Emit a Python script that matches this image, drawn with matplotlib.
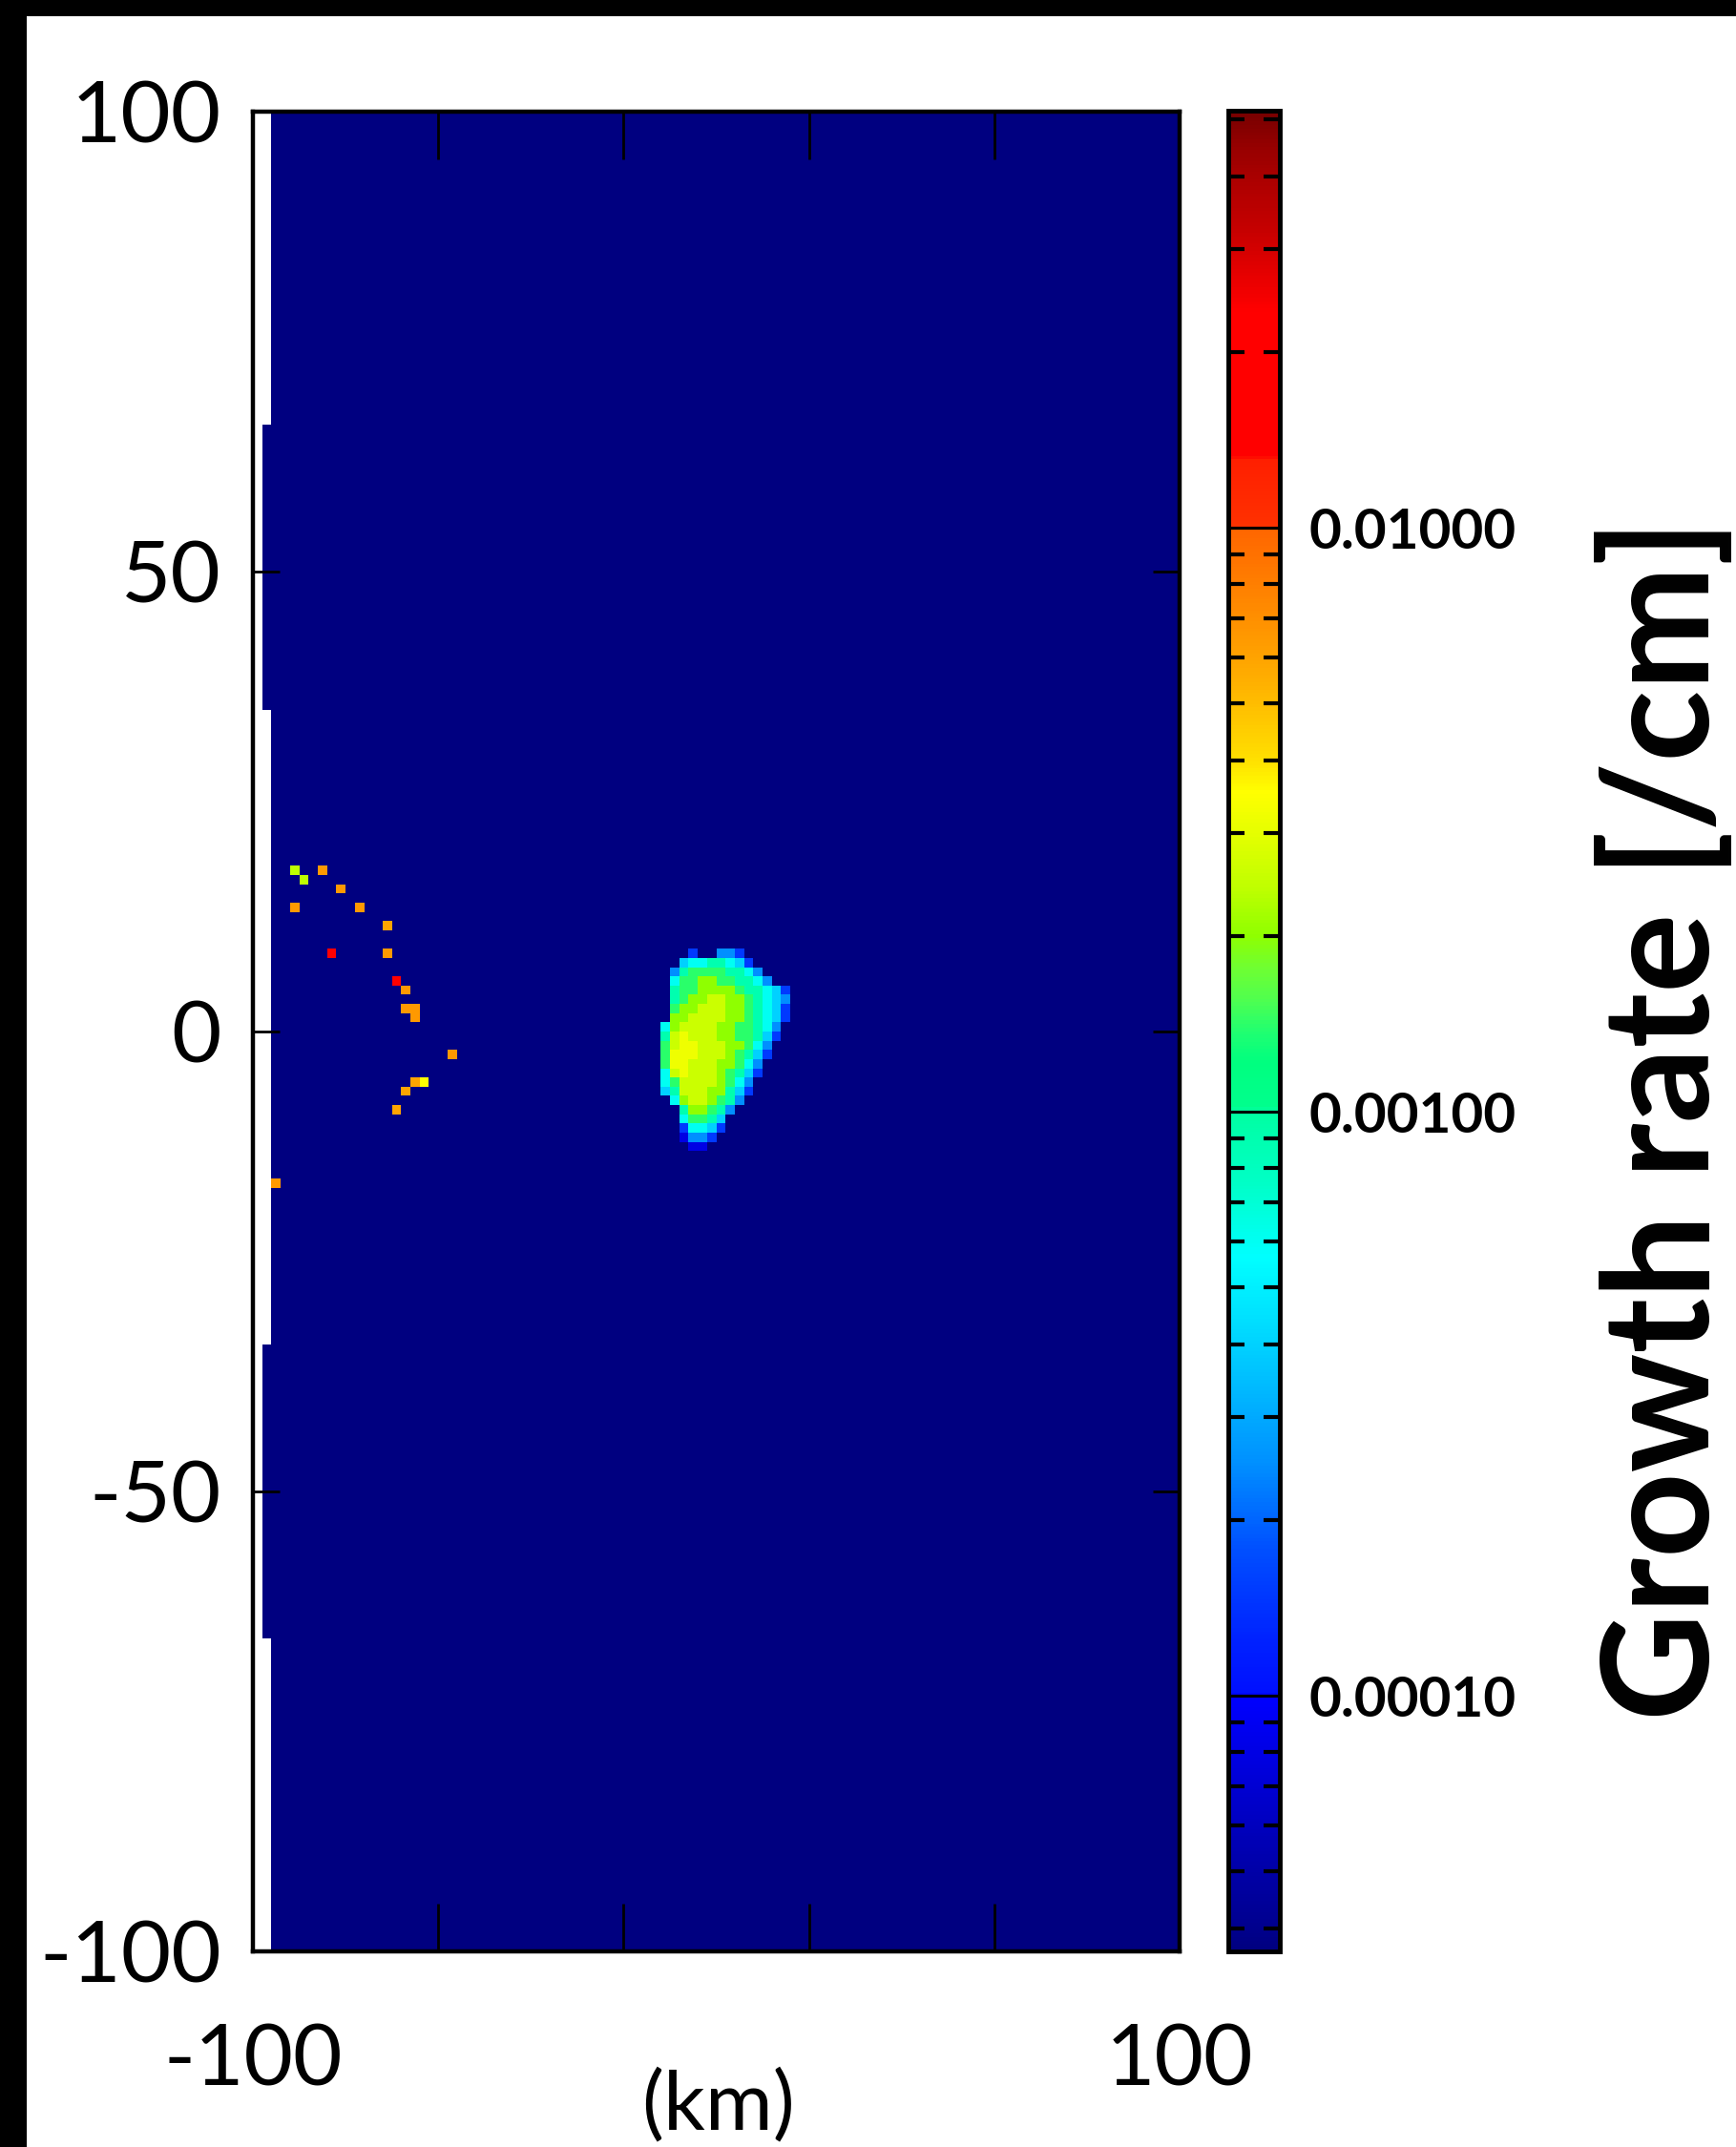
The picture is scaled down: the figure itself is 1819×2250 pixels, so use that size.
import numpy as np
import matplotlib
matplotlib.use("Agg")
import matplotlib.pyplot as plt
from matplotlib.colors import LinearSegmentedColormap, LogNorm
from matplotlib.ticker import LogLocator, NullFormatter
from matplotlib.patches import Rectangle

# ---------------------------------------------------------------- data
# model grid (km)
X_MIN, X_MAX, DX = -100.0, 100.0, 2.0
Y_MIN, Y_MAX, DY = -100.0, 100.0, 1.0

# growth-rate colour range [/cm]
RATE_MIN, RATE_MAX = 3.65e-5, 0.0518
BACKGROUND_RATE = 3.0e-5

# western edge of the computed domain, per latitude band (y0, y1, x_edge)
edge_bands = [(-100, -66, -96), (-66, -34, -98), (-34, 35, -96),
              (35, 66, -98), (66, 100, -96)]

# growth-rate levels used in the central cell
rate_levels = {'1': 8.0e-5, '2': 1.5e-4, '3': 2.5e-4, '4': 4.0e-4,
               '5': 6.0e-4, '6': 9.0e-4, '7': 1.4e-3, '8': 2.0e-3,
               '9': 2.6e-3, 'A': 3.2e-3}

# central unstable cell: first column at x=-12 km, first row at y=9 km
cell_x0, cell_y0 = -12.0, 9.0
cell_rows = [
    "...2..332.....",
    "..45566542....",
    ".3677776653...",
    ".57788776653..",
    ".6778888766542",
    ".6788998876543",
    ".7889998876542",
    ".8899998876542",
    "5899998877653.",
    "69A9998877642.",
    "79AA99988753..",
    "7AAA99987642..",
    "7AA99988753...",
    "59A99987642...",
    "5799998753....",
    "4699988642....",
    ".58998763.....",
    "..688763......",
    "..57764.......",
    "..25542.......",
    "..1332........",
    "...11.........",
]

# scattered unstable points along the western arc
arc_x = [-90.1, -88.3, -85.8, -80.6, -92.0, -76.1, -71.6, -82.9, -70.3, -68.7,
         -67.9, -66.8, -65.8, -64.6, -57.8, -63.3, -65.8, -66.8, -68.9, -95.1]
arc_y = [17.2, 16.6, 17.3, 15.8, 13.3, 13.9, 11.4, 8.8, 8.2, 5.0,
         4.4, 2.8, 2.0, 1.8, -2.3, -5.1, -5.9, -6.7, -8.4, -16.2]
arc_rate = [2.4e-3, 2.4e-3, 6.5e-3, 6.5e-3, 6.5e-3, 6.5e-3, 6.0e-3, 1.6e-2, 6.5e-3, 1.6e-2,
            6.5e-3, 6.5e-3, 6.5e-3, 6.5e-3, 6.5e-3, 3.5e-3, 6.0e-3, 6.0e-3, 6.0e-3, 6.5e-3]

x_ticks = [-100, -60, -20, 20, 60, 100]
x_tick_labels = ["-100", "", "", "", "", "100"]
y_ticks = [-100, -50, 0, 50, 100]
y_tick_labels = ["-100", "-50", "0", "50", "100"]
cbar_ticks = [1e-4, 1e-3, 1e-2]
cbar_tick_labels = ["0.00010", "0.00100", "0.01000"]

# palette nodes (fraction along the log colour axis, rgb)
palette_nodes = [
    (0.000, (0.00, 0.00, 0.50)), (0.013, (0.00, 0.00, 0.56)),
    (0.053, (0.00, 0.00, 0.69)), (0.103, (0.00, 0.00, 0.88)),
    (0.138, (0.00, 0.00, 1.00)), (0.140, (0.00, 0.06, 1.00)),
    (0.168, (0.00, 0.13, 1.00)), (0.218, (0.00, 0.31, 1.00)),
    (0.264, (0.00, 0.56, 1.00)), (0.311, (0.00, 0.75, 1.00)),
    (0.344, (0.00, 0.88, 1.00)), (0.377, (0.00, 1.00, 1.00)),
    (0.417, (0.00, 1.00, 0.78)), (0.457, (0.00, 1.00, 0.63)),
    (0.459, (0.00, 1.00, 0.55)), (0.483, (0.00, 1.00, 0.50)),
    (0.500, (0.13, 1.00, 0.44)), (0.517, (0.31, 1.00, 0.31)),
    (0.535, (0.44, 1.00, 0.19)), (0.552, (0.56, 1.00, 0.00)),
    (0.578, (0.75, 1.00, 0.00)), (0.604, (0.88, 1.00, 0.00)),
    (0.630, (1.00, 1.00, 0.00)), (0.647, (1.00, 0.88, 0.00)),
    (0.665, (1.00, 0.80, 0.00)), (0.690, (1.00, 0.69, 0.00)),
    (0.714, (1.00, 0.60, 0.00)), (0.742, (1.00, 0.50, 0.00)),
    (0.773, (1.00, 0.40, 0.00)), (0.775, (1.00, 0.19, 0.00)),
    (0.811, (1.00, 0.12, 0.00)), (0.813, (1.00, 0.00, 0.00)),
    (0.892, (1.00, 0.00, 0.00)), (0.899, (0.96, 0.00, 0.00)),
    (0.916, (0.88, 0.00, 0.00)), (0.935, (0.78, 0.00, 0.00)),
    (0.959, (0.69, 0.00, 0.00)), (0.979, (0.60, 0.00, 0.00)),
    (1.000, (0.47, 0.00, 0.00)),
]

# ---------------------------------------------------------------- field
x_edges = np.arange(X_MIN, X_MAX + DX / 2, DX)
y_edges = np.arange(Y_MIN, Y_MAX + DY / 2, DY)
nx, ny = len(x_edges) - 1, len(y_edges) - 1
field = np.full((ny, nx), BACKGROUND_RATE)

def col_of(x):
    return int(np.floor((x - X_MIN) / DX))

def row_of(y):
    return int(np.floor((y - Y_MIN) / DY))

i0 = col_of(cell_x0 + DX / 2)
for r, line in enumerate(cell_rows):
    j = row_of(cell_y0 - DY / 2) - r
    for c, ch in enumerate(line):
        if ch in rate_levels:
            field[j, i0 + c] = rate_levels[ch]

for x, y, v in zip(arc_x, arc_y, arc_rate):
    field[row_of(y), col_of(x)] = v

for y0, y1, xe in edge_bands:
    field[row_of(y0 + 0.01):row_of(y1 - 0.01) + 1, :col_of(xe - 0.01) + 1] = np.nan

field = np.ma.masked_invalid(field)

# ---------------------------------------------------------------- figure
W, H, DPI = 1819, 2250, 100
plt.rcParams["font.family"] = ["Lato", "DejaVu Sans"]
fig = plt.figure(figsize=(W / DPI, H / DPI), dpi=DPI, facecolor="white")

cmap = LinearSegmentedColormap.from_list("growth", palette_nodes, N=512)
cmap.set_bad("white")
cmap.set_under(palette_nodes[0][1])
norm = LogNorm(vmin=RATE_MIN, vmax=RATE_MAX)

ax = fig.add_axes([265 / W, 1 - 2045 / H, 971 / W, 1928 / H])
mesh = ax.pcolormesh(x_edges, y_edges, field, cmap=cmap, norm=norm,
                     shading="flat", rasterized=True)
ax.set_xlim(X_MIN, X_MAX)
ax.set_ylim(Y_MIN, Y_MAX)
ax.set_xticks(x_ticks, labels=x_tick_labels)
ax.set_yticks(y_ticks, labels=y_tick_labels)
ax.tick_params(axis="x", direction="in", length=36, width=2.0, top=True,
               labelsize=64, pad=54, labelcolor="black")
ax.tick_params(axis="y", direction="in", length=20, width=2.0, right=True,
               labelsize=65, pad=24, labelcolor="black")
for sp in ax.spines.values():
    sp.set_linewidth(3.2)
    sp.set_zorder(5)

cax = fig.add_axes([1287 / W, 1 - 2045 / H, 54 / W, 1929 / H])
cbar = fig.colorbar(mesh, cax=cax)
cbar.outline.set_linewidth(3.5)
cbar.set_ticks(cbar_ticks, labels=cbar_tick_labels)
cax.yaxis.set_minor_locator(LogLocator(base=10, subs=np.arange(2, 10)))
cax.yaxis.set_minor_formatter(NullFormatter())
cax.tick_params(which="major", direction="in", length=39, width=2.2,
                left=True, right=True, labelleft=False, labelright=True,
                labelsize=42, pad=22)
cax.tick_params(which="minor", direction="in", length=12, width=3.0,
                left=True, right=True)
for lab in cax.get_yticklabels():
    lab.set_fontweight("bold")

fig.text(752 / W, 1 - 2246 / H, "(km)", ha="center", va="bottom",
         fontsize=62)
fig.text(1745 / W, 1 - 1173 / H, "Growth rate [/cm]", rotation=90,
         ha="center", va="center", fontsize=112, fontweight="bold")

# dark frame along the top and left edges
fig.add_artist(Rectangle((0, 1 - 17 / H), 1, 17 / H, transform=fig.transFigure,
                         facecolor="black", edgecolor="none"))
fig.add_artist(Rectangle((0, 0), 28 / W, 1, transform=fig.transFigure,
                         facecolor="black", edgecolor="none"))

fig.savefig("out.png", dpi=DPI, facecolor="white")
